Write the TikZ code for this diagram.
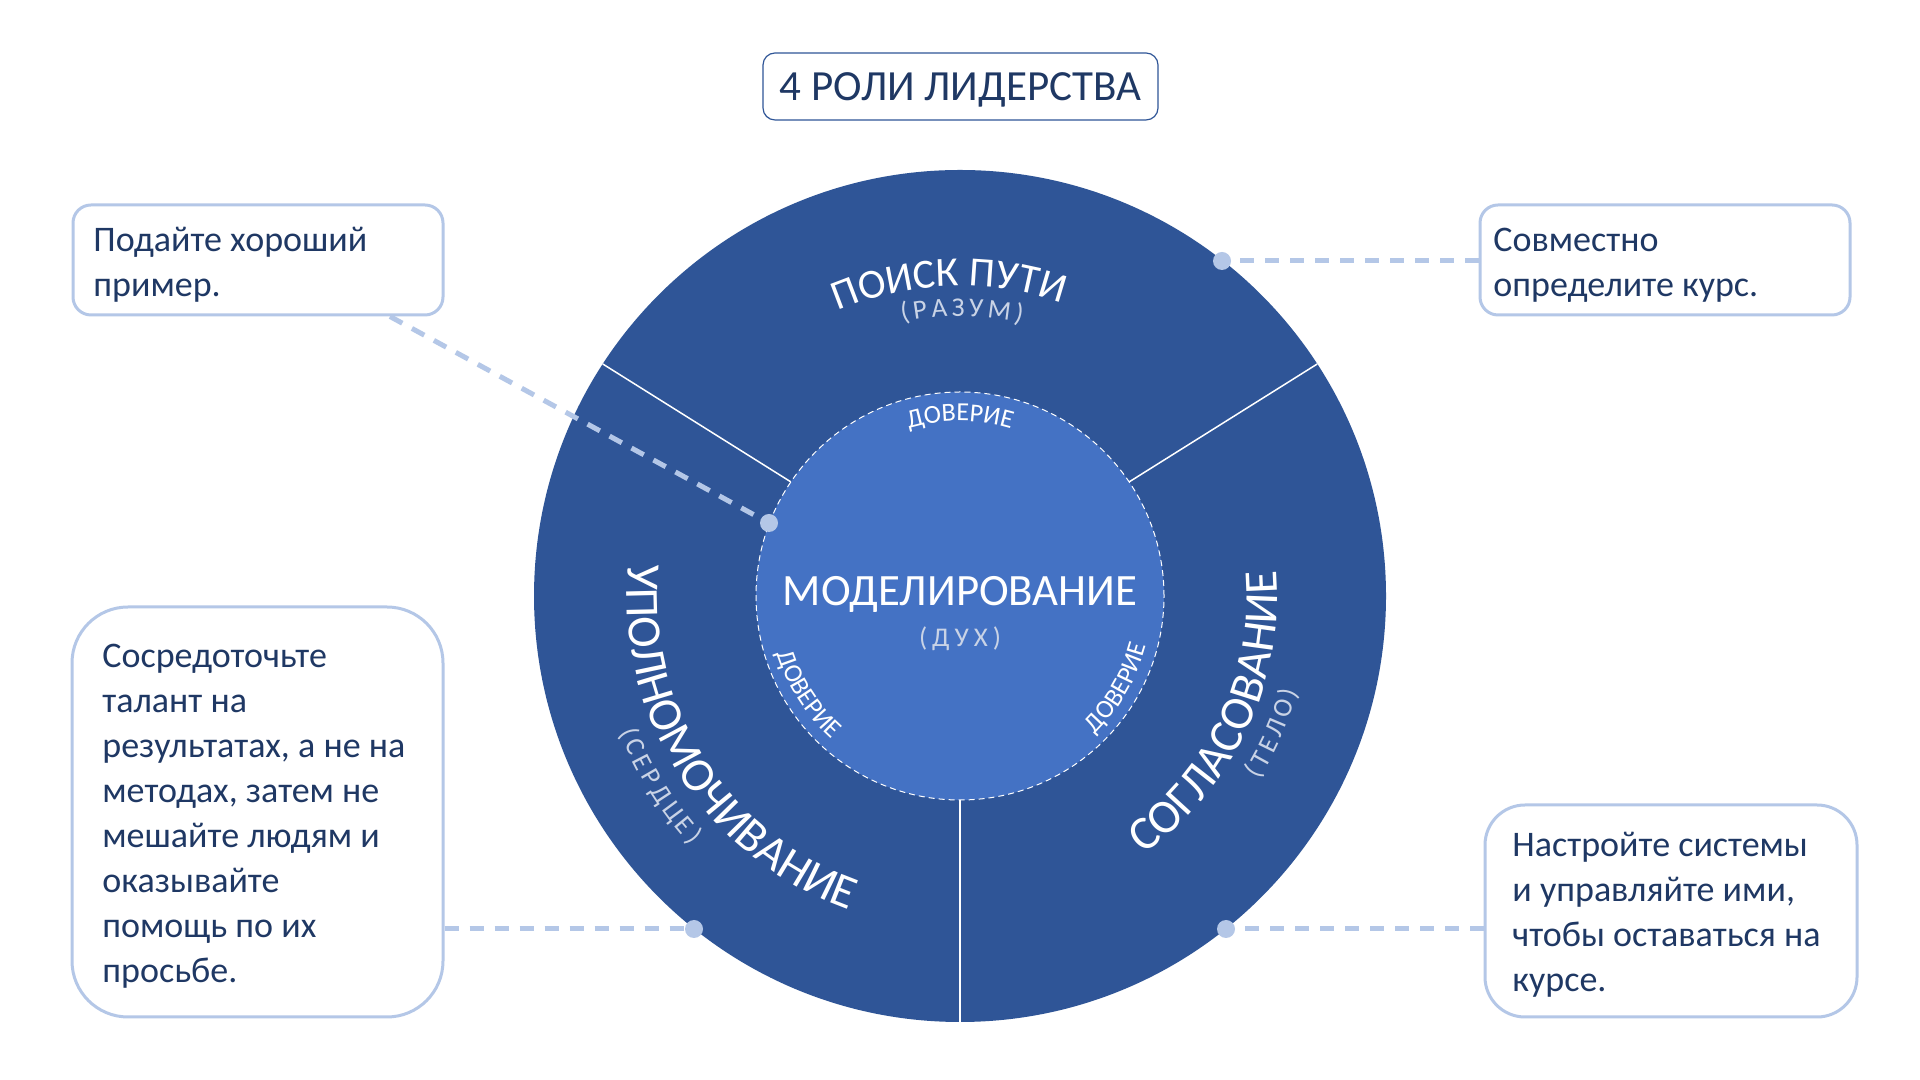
\documentclass[tikz,border=0pt]{standalone}
\usepackage{fontspec}
\setmainfont{Carlito}
\usetikzlibrary{decorations.text}
\definecolor{ringc}{HTML}{2F5597}
\definecolor{innerc}{HTML}{4472C4}
\definecolor{navy}{HTML}{1F3864}
\definecolor{lightb}{HTML}{B4C7E7}
\definecolor{subc}{HTML}{C9D3E6}
\newcommand\topfont{\fontsize{20.8}{24}\selectfont}
\newcommand\sidefont{\fontsize{23.8}{27}\selectfont}
\newcommand\subfont{\fontsize{13.5}{16}\selectfont}
\newcommand\trustfont{\fontsize{13}{15}\selectfont}
\newcommand\boxfont{\fontsize{18}{22.5}\selectfont}
\pgfdeclarelayer{bg}
\pgfdeclarelayer{lines}
\pgfsetlayers{bg,lines,main}
\begin{document}
\begin{tikzpicture}[x=0.5pt,y=0.5pt,
  divider/.style={draw=white, line width=0.75pt},
  callout/.style={draw=lightb, line width=1.5pt, fill=white, minimum width=#1, anchor=center},
  calltext/.style={text=navy, font=\boxfont, align=left, anchor=west, inner sep=0pt},
  dot/.style={circle, fill=lightb, inner sep=0pt, minimum size=9pt},
  link/.style={draw=lightb, line width=2.5pt, dash pattern=on 7pt off 5.5pt},
  ringtext/.style={decorate, decoration={text along path, text align=center, text={#1}}}
]
\useasboundingbox (0,0) rectangle (1920,1080);
\coordinate (C) at (960,484);
\begin{pgfonlayer}{bg}
\fill[white] (0,0) rectangle (1920,1080);
\fill[ringc] (C) circle[radius=426];
\draw[divider] ([shift={(146:204)}]C) -- ([shift={(147:426)}]C);
\draw[divider] ([shift={(34:204)}]C) -- ([shift={(33:426)}]C);
\draw[divider] ([shift={(270:204)}]C) -- ([shift={(270:426)}]C);
\fill[innerc] (C) circle[radius=204];
\draw[white, line width=0.5pt, dash pattern=on 3pt off 2pt] (C) circle[radius=204];
% outer ring labels
\path[ringtext={|\topfont\color{white}|ПОИСК ПУТИ}]
  ([shift={(132:310)}]C) arc[start angle=132, end angle=52, radius=310];
\path[ringtext={|\subfont\color{subc}\kern2pt|(РАЗУМ)}]
  ([shift={(130:280)}]C) arc[start angle=130, end angle=50, radius=280];
\path[ringtext={|\sidefont\color{white}|УПОЛНОМОЧИВАНИЕ}]
  ([shift={(152.5:333)}]C) arc[start angle=152.5, end angle=272.5, radius=333];
\path[ringtext={|\subfont\color{subc}\kern2pt|(СЕРДЦЕ)}]
  ([shift={(172:367)}]C) arc[start angle=172, end angle=252, radius=367];
\path[ringtext={|\sidefont\color{white}|СОГЛАСОВАНИЕ}]
  ([shift={(-85:317)}]C) arc[start angle=-85, end angle=35, radius=317];
\path[ringtext={|\subfont\color{subc}\kern2pt|(ТЕЛО)}]
  ([shift={(-64:351)}]C) arc[start angle=-64, end angle=16, radius=351];
% trust labels
\path[ringtext={|\trustfont\color{white}|ДОВЕРИЕ}]
  ([shift={(130:175)}]C) arc[start angle=130, end angle=50, radius=175];
\path[ringtext={|\trustfont\color{white}|ДОВЕРИЕ}]
  ([shift={(172.8:192)}]C) arc[start angle=172.8, end angle=252.8, radius=192];
\path[ringtext={|\trustfont\color{white}|ДОВЕРИЕ}]
  ([shift={(-70.3:193)}]C) arc[start angle=-70.3, end angle=9.7, radius=193];
\end{pgfonlayer}

% center texts
\node[text=white, font=\fontsize{22.4}{26}\selectfont, inner sep=0pt, text depth=0pt] (model) at (960,489) {МОДЕЛИРОВАНИЕ};
\node[text=subc, font=\fontsize{13.5}{16}\selectfont, inner sep=0pt] (spirit) at (960,441) {(\kern2.5pt Д\kern2.5pt У\kern2.5pt Х\kern2.5pt)};

% title
\node[draw=ringc, line width=0.6pt, rounded corners=6pt, minimum width=197.5pt, minimum height=33.5pt, text=navy, font=\fontsize{21.5}{26}\selectfont, inner sep=0pt, text depth=0pt] (title) at (960.5,993.5) {4 РОЛИ ЛИДЕРСТВА};

% callout boxes
\node[callout=185pt, rounded corners=9pt, minimum height=55pt] (tlbox) at (258,820) {};
\node[callout=185pt, rounded corners=9pt, minimum height=55pt] (trbox) at (1665,820) {};
\node[callout=185.5pt, rounded corners=28pt, minimum height=205pt] (blbox) at (257.5,268) {};
\node[callout=186pt, rounded corners=20pt, minimum height=106pt] (brbox) at (1671,169) {};

% callout texts
\node[calltext] (tl) at (93,815) {Подайте хороший\\пример.};
\node[calltext] (tr) at (1493,815) {Совместно\\определите курс.};
\node[calltext] (bl) at (102,264) {Сосредоточьте\\талант на\\результатах, а не на\\методах, затем не\\мешайте людям и\\оказывайте\\помощь по их\\просьбе.};
\node[calltext] (br) at (1512,165.5) {Настройте системы\\и управляйте ими,\\чтобы оставаться на\\курсе.};

% dots
\node[dot] (d1) at (769,557) {};
\node[dot] (d2) at (1222,819) {};
\node[dot] (d3) at (694,151) {};
\node[dot] (d4) at (1226,151) {};

\coordinate (c1) at ([xshift=66pt]tlbox.south);
\begin{pgfonlayer}{lines}
\draw[link] (c1) -- (d1.center);
\draw[link] (trbox.west |- d2) -- (d2.center);
\draw[link] (blbox.east |- d3) -- (d3.center);
\draw[link] (brbox.west |- d4) -- (d4.center);
\end{pgfonlayer}
\end{tikzpicture}
\end{document}
